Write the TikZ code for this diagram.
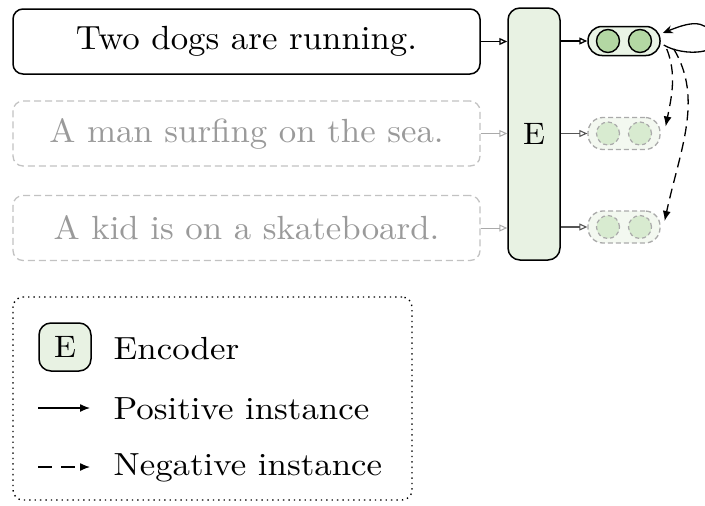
\documentclass[tikz,border=0pt]{standalone}
\usepackage{fontspec}
\setmainfont{lmroman10-regular.otf}[FakeStretch=1.04]
\newfontfamily\legfont{lmroman10-regular.otf}[FakeStretch=1.09]
\usetikzlibrary{arrows.meta,calc}
\definecolor{encfill}{HTML}{E8F2E3}
\definecolor{dotfill}{HTML}{B3D7A3}
\definecolor{dotfillneg}{HTML}{D8EBD0}
\definecolor{capfill}{HTML}{EAF4E6}
\definecolor{capfillneg}{HTML}{F3F8F0}
\definecolor{greybox}{HTML}{C2C2C2}
\definecolor{greytext}{HTML}{9A9A9A}
\definecolor{greyline}{HTML}{AAAAAA}
\definecolor{darkline}{HTML}{555555}
\begin{document}
\begin{tikzpicture}[x=1pt,y=-1pt,line width=1.3pt,
  sentence/.style={draw, rounded corners=10pt, minimum width=467pt, minimum height=65pt,
    inner sep=0pt, line width=1.5pt, font=\fontsize{33.5}{40}\selectfont},
  negsent/.style={sentence, draw=greybox, line width=1.3pt, dash pattern=on 7pt off 4pt, text=greytext},
  encbox/.style={draw, fill=encfill, rounded corners=12pt, inner sep=0pt, line width=1.5pt},
  capsule/.style={draw, fill=capfill, rounded corners=14pt, minimum width=72pt, minimum height=29pt, inner sep=0pt, line width=1.5pt},
  negcapsule/.style={capsule, draw=greyline, fill=capfillneg, minimum height=32pt, rounded corners=15pt, line width=1.3pt, dash pattern=on 5pt off 3pt},
  vecdot/.style={circle, draw, fill=dotfill, minimum size=23pt, inner sep=0pt, line width=1.4pt},
  negdot/.style={vecdot, draw=greyline, fill=dotfillneg, line width=1.2pt, dash pattern=on 4pt off 3pt},
  tip/.style={-{Triangle[open,length=8pt,width=7pt]}},
  negarrow/.style={-{Latex[length=10pt,width=8pt]}, dash pattern=on 10pt off 6pt},
  legtext/.style={anchor=west, inner sep=0pt, font=\legfont\fontsize{32}{38}\selectfont}
]
\useasboundingbox (0,0) rectangle (705,506);

% sentences
\node[sentence] (s1) at (246.5,41.5) {Two dogs are running.};
\node[negsent] (s2) at (246.5,133.5) {A man surfing on the sea.};
\node[negsent] (s3) at (246.5,228) {A kid is on a skateboard.};

% encoder
\node[encbox, minimum width=52pt, minimum height=252pt, font=\fontsize{31}{36}\selectfont] (enc) at (534,134) {E};

% capsules
\node[capsule] (c1) at (624,41) {};
\node[vecdot] (d11) at (608,41) {};
\node[vecdot] (d12) at (640,41) {};
\node[negcapsule] (c2) at (624,133.5) {};
\node[negdot] (d21) at (608,133.5) {};
\node[negdot] (d22) at (640,133.5) {};
\node[negcapsule] (c3) at (624,227) {};
\node[negdot] (d31) at (608,227) {};
\node[negdot] (d32) at (640,227) {};

% sentence -> encoder
\draw[tip] (s1.east) -- (s1.east -| enc.west);
\draw[tip, greyline, line width=1pt] (s2.east) -- (s2.east -| enc.west);
\draw[tip, greyline, line width=1pt] (s3.east) -- (s3.east -| enc.west);

% encoder -> capsules
\draw[tip] (enc.east |- c1.west) -- (c1.west);
\draw[tip, darkline, line width=1.1pt] (enc.east |- c2.west) -- (c2.west);
\draw[tip, darkline, line width=1.1pt] (enc.east |- c3.west) -- (c3.west);

% self loop (positive)
\draw[-{Stealth[length=10pt,width=8pt]}] ($(c1.east)+(3,4)$) .. controls +(20,12) and +(10,18) .. (714,36)
  .. controls +(-10,-18) and +(25,-10) .. ($(c1.east)+(2,-8)$);

% negatives
\draw[negarrow] ($(c1.east)+(6,8)$) .. controls +(10,25) and +(6,-30) .. ($(c2.east)+(5,-7)$);
\draw[negarrow] ($(c1.east)+(13,8)$) .. controls +(30,50) and +(15,-70) .. ($(c3.east)+(4,-6)$);

% legend
\node[draw, rounded corners=10pt, line width=1.4pt, dash pattern=on 1.4pt off 4pt, minimum width=399pt, minimum height=203pt, inner sep=0pt] (leg) at (212.5,398.5) {};
\node[encbox, minimum width=52pt, minimum height=48pt, font=\fontsize{31}{36}\selectfont] (legE) at (65,347) {E};
\node[legtext] (legEt) at (113,349) {Encoder};
\coordinate (pa) at (38,408);
\coordinate (pb) at (90,408);
\draw[-{Latex[length=10pt,width=8pt]}] (pa) -- (pb);
\node[legtext] (legPt) at (113,409) {Positive instance};
\coordinate (na) at (38,467);
\coordinate (nb) at (90,467);
\draw[-{Latex[length=10pt,width=8pt]}, dash pattern=on 14pt off 9pt] (na) -- (nb);
\node[legtext] (legNt) at (113,468) {Negative instance};
\end{tikzpicture}
\end{document}
